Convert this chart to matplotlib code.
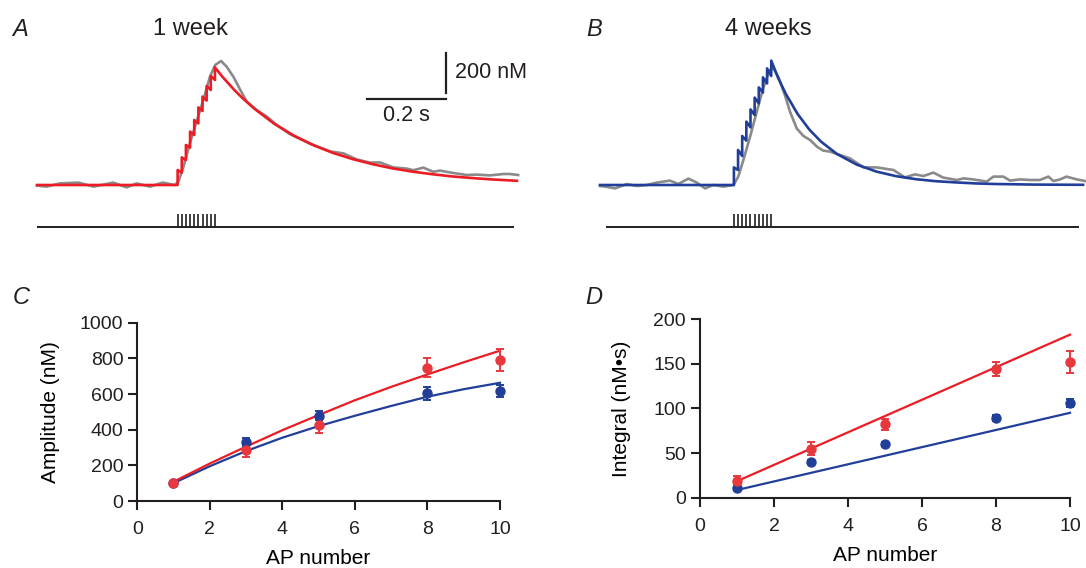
import numpy as np
import matplotlib
matplotlib.use('Agg')
import matplotlib.pyplot as plt

plt.rcParams['font.family'] = ['Liberation Sans', 'DejaVu Sans']

W, H = 1086, 568

# --- panel A / B traces (t in s, Ca in nM above baseline) ---
ap_a = [0.356, 0.3665, 0.377, 0.3875, 0.398, 0.4085, 0.419, 0.4295, 0.44, 0.4505]
ap_b = [0.339, 0.3495, 0.36, 0.3705, 0.381, 0.3915, 0.402, 0.4125, 0.423, 0.4335]

# fitted model: value after each AP jump and just before the next AP
fit_a_top = [75, 138, 200, 267, 325, 388, 442, 495, 545, 588]
fit_a_bot = [62, 125, 187, 250, 308, 370, 422, 475, 525]
fit_a_decay_t = [0.47, 0.50, 0.52, 0.55, 0.60, 0.65, 0.70, 0.75, 0.80, 0.85,
                 0.90, 0.95, 1.00, 1.05, 1.10, 1.15, 1.215]
fit_a_decay = [540, 474, 435, 382, 307, 247, 199, 160, 129, 104,
               83, 67, 54, 43, 35, 28, 21]

fit_b_top = [88, 175, 245, 317, 378, 437, 488, 538, 583, 622]
fit_b_bot = [75, 145, 222, 288, 350, 408, 462, 508, 545]
fit_b_decay_t = [0.45, 0.47, 0.50, 0.53, 0.56, 0.60, 0.65, 0.70, 0.75, 0.80,
                 0.85, 0.90, 0.95, 1.00, 1.10, 1.223]
fit_b_decay = [540, 457, 356, 277, 216, 155, 102, 67, 44, 29,
               19, 13, 8, 5, 2, 1]

gray_a_t = [0, .024, .058, .105, .143, .193, .227, .252, .286, .318, .349, .358,
            .371, .387, .404, .421, .438, .451, .466, .480, .497, .514, .531, .556,
            .582, .607, .640, .691, .742, .776, .809, .843, .868, .902, .936, .953,
            .978, 1.003, 1.020, 1.054, 1.088, 1.113, 1.147, 1.181, 1.197, 1.218]
gray_a = [-3, -8, 8, 12, -8, 12, -12, 8, -8, 12, 0, 17,
          92, 208, 317, 425, 542, 600, 620, 592, 542, 478, 417, 375,
          342, 300, 255, 207, 168, 158, 128, 112, 113, 88, 82, 74,
          87, 66, 72, 60, 50, 52, 48, 55, 55, 50]

gray_b_t = [0, .013, .038, .068, .093, .118, .144, .177, .198, .224, .245, .266,
            .287, .312, .338, .350, .363, .380, .397, .413, .430, .439, .451, .468,
            .481, .498, .515, .532, .549, .565, .582, .633, .667, .700, .743, .772,
            .797, .819, .844, .869, .903, .920, .945, .979, .996, 1.021, 1.038, 1.063,
            1.089, 1.114, 1.135, 1.148, 1.165, 1.181, 1.207, 1.228]
gray_b = [-5, -8, -17, 5, -5, 0, 12, 22, 5, 32, 12, -17,
          0, -8, 0, 42, 125, 242, 367, 483, 575, 583, 542, 450,
          367, 283, 245, 225, 192, 172, 167, 133, 88, 88, 75, 38,
          53, 45, 62, 37, 25, 33, 28, 17, 42, 42, 22, 28,
          25, 25, 42, 20, 28, 42, 28, 20]

# --- panel C / D ---
ap_num = [1, 3, 5, 8, 10]
amp_1wk = [103, 286, 426, 748, 791]
amp_1wk_err = [10, 40, 45, 53, 63]
amp_4wk = [99, 333, 477, 604, 619]
amp_4wk_err = [8, 22, 25, 35, 33]
fit_x = [1, 2, 3, 4, 5, 6, 7, 8, 9, 10]
amp_fit_1wk = [108, 210, 305, 397, 482, 565, 640, 710, 778, 843]
amp_fit_4wk = [100, 195, 280, 355, 420, 478, 533, 585, 627, 663]

int_1wk = [19, 55, 82, 144, 152]
int_1wk_err = [5, 7, 6, 8, 12]
int_4wk = [10.5, 40, 60, 89, 106]
int_4wk_err = [2, 2, 2, 3, 4]
int_fit_x = [1, 10]
int_fit_1wk = [18.5, 182.5]
int_fit_4wk = [8.6, 95]

RED = '#ec1c24'
RED_PT = '#e8383d'
BLUE = '#213f99'
GRAY = '#8a8a8a'
INK = '#231f20'


def fbox(left, top, right, bottom):
    return [left / W, 1 - bottom / H, (right - left) / W, (bottom - top) / H]


def staircase(ap, top, bot, decay_t, decay):
    t = [0.0]
    v = [0.0]
    prev = 0.0
    for i, ta in enumerate(ap):
        t += [ta, ta]
        v += [prev, top[i]]
        if i < len(bot):
            prev = bot[i]
    return t + decay_t, v + decay


fig = plt.figure(figsize=(W / 100, H / 100), dpi=100)

# trace axes: 395 px per s, 5 nM per px, baseline at y=185 px
axA = fig.add_axes(fbox(37, 40, 517, 235))
axB = fig.add_axes(fbox(600, 40, 1086, 235))
axA.set_xlim(0, 480 / 395)
axB.set_xlim(0, 486 / 395)
for ax in (axA, axB):
    ax.set_ylim(-250, 725)
    ax.axis('off')

ft, fv = staircase(ap_a, fit_a_top, fit_a_bot, fit_a_decay_t, fit_a_decay)
axA.plot(gray_a_t, gray_a, color=GRAY, lw=1.9, clip_on=False)
axA.plot(ft, fv, color=RED, lw=1.9, clip_on=False)
axA.plot([0, 1.205], [-210, -210], color=INK, lw=1.4)
axA.vlines(ap_a, -210, -145, color=INK, lw=1.2)

ft, fv = staircase(ap_b, fit_b_top, fit_b_bot, fit_b_decay_t, fit_b_decay)
axB.plot(gray_b_t, gray_b, color=GRAY, lw=1.9, clip_on=False)
axB.plot(ft, fv, color=BLUE, lw=1.9, clip_on=False)
axB.plot([0.017, 1.21], [-210, -210], color=INK, lw=1.4)
axB.vlines(ap_b, -210, -145, color=INK, lw=1.2)

# scale bars
axA.plot([1.035, 1.035], [461, 661], color=INK, lw=1.6, clip_on=False)
axA.plot([0.835, 1.035], [428, 428], color=INK, lw=1.6, clip_on=False)
axA.text(1.058, 562, '200 nM', fontsize=15.5, va='center', ha='left', color=INK)
axA.text(0.935, 398, '0.2 s', fontsize=15.5, va='top', ha='center', color=INK)

# panel titles
fig.text(12 / W, 1 - 30 / H, 'A', fontsize=17, style='italic', va='center', color=INK)
fig.text(190 / W, 1 - 29 / H, '1 week', fontsize=17, ha='center', va='center', color=INK)
fig.text(586 / W, 1 - 30 / H, 'B', fontsize=17, style='italic', va='center', color=INK)
fig.text(768 / W, 1 - 29 / H, '4 weeks', fontsize=17, ha='center', va='center', color=INK)
fig.text(13 / W, 1 - 297 / H, 'C', fontsize=17, style='italic', va='center', color=INK)
fig.text(585 / W, 1 - 298 / H, 'D', fontsize=17, style='italic', va='center', color=INK)

axC = fig.add_axes(fbox(137.2, 322.7, 500, 501))
axD = fig.add_axes(fbox(700, 319, 1070, 497.7))

ebkw = dict(fmt='o', ms=6.5, capsize=3, elinewidth=1.4, capthick=1.4, clip_on=False)
axC.plot(fit_x, amp_fit_4wk, color=BLUE, lw=1.6, clip_on=False)
axC.plot(fit_x, amp_fit_1wk, color=RED, lw=1.6, clip_on=False)
axC.errorbar(ap_num, amp_4wk, yerr=amp_4wk_err, color=BLUE, **ebkw)
axC.errorbar(ap_num, amp_1wk, yerr=amp_1wk_err, color=RED_PT, **ebkw)
axC.set_xlim(0, 10)
axC.set_ylim(0, 1000)
axC.set_xticks(range(0, 11, 2))
axC.set_yticks(range(0, 1001, 200))
axC.set_ylabel('Amplitude (nM)', fontsize=15, labelpad=14)
axC.set_xlabel('AP number', fontsize=15, labelpad=8)

axD.plot(int_fit_x, int_fit_4wk, color=BLUE, lw=1.6, clip_on=False)
axD.plot(int_fit_x, int_fit_1wk, color=RED, lw=1.6, clip_on=False)
axD.errorbar(ap_num, int_4wk, yerr=int_4wk_err, color=BLUE, **ebkw)
axD.errorbar(ap_num, int_1wk, yerr=int_1wk_err, color=RED_PT, **ebkw)
axD.set_xlim(0, 10)
axD.set_ylim(0, 200)
axD.set_xticks(range(0, 11, 2))
axD.set_yticks(range(0, 201, 50))
axD.set_ylabel('Integral (nM\u2022s)', fontsize=15, labelpad=16)
axD.set_xlabel('AP number', fontsize=15, labelpad=8)

for ax in (axC, axD):
    for s in ('top', 'right'):
        ax.spines[s].set_visible(False)
    for s in ('left', 'bottom'):
        ax.spines[s].set_linewidth(1.5)
        ax.spines[s].set_color(INK)
    ax.tick_params(axis='both', direction='out', length=6.5, width=1.5,
                   labelsize=14, colors=INK)
    ax.tick_params(axis='x', pad=8)
    ax.tick_params(axis='y', pad=3.5)

fig.savefig('out.png', dpi=100)
